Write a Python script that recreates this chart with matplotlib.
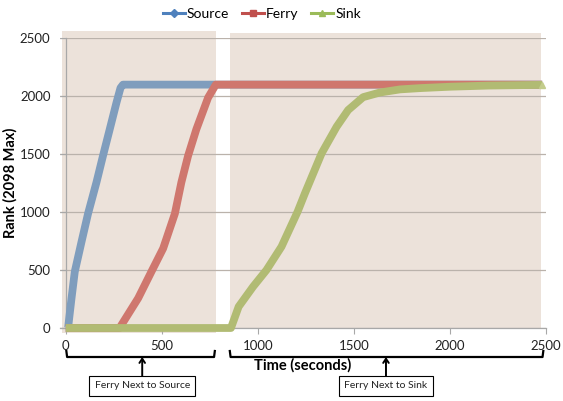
import matplotlib
matplotlib.use("Agg")
import matplotlib.pyplot as plt
from matplotlib import transforms
from matplotlib.lines import Line2D
from matplotlib.patches import Rectangle

plt.rcParams['font.family'] = ['Lato', 'DejaVu Sans']

# ---- data ----
t_source = [0, 12, 30, 47, 82, 116, 160, 194, 229, 264, 285, 298, 2480]
source = [0, 0, 257, 486, 743, 986, 1257, 1486, 1714, 1943, 2070, 2098, 2098]

t_ferry = [0, 280, 377, 446, 507, 568, 602, 637, 680, 741, 781, 2480]
ferry = [0, 0, 257, 486, 686, 986, 1257, 1486, 1714, 1986, 2098, 2098]

t_sink = [0, 860, 900, 975, 1045, 1123, 1207, 1245, 1332, 1410, 1470, 1548, 1635,
          1740, 1844, 2000, 2200, 2480]
sink = [0, 0, 184, 356, 500, 701, 1003, 1161, 1506, 1735, 1879, 1990, 2030,
        2057, 2068, 2080, 2090, 2096]

phases = ["Ferry Next to Source", "Ferry Next to Sink"]
phase_spans = [(-21, 781), (854, 2476)]
phase_arrow = [398, 1667]

xticks = [0, 500, 1000, 1500, 2000, 2500]
yticks = [0, 500, 1000, 1500, 2000, 2500]

c_source = '#7f9dbd'
c_ferry = '#cf776e'
c_sink = '#b1bb73'
c_shade = '#ece2da'
c_grid = '#bab2ab'

W, H = 563, 401
fig = plt.figure(figsize=(W / 100, H / 100), dpi=100)
ax = fig.add_axes([60 / W, 1 - 328 / H, 486 / W, 290 / H])

# shaded phases
ax.add_patch(Rectangle((phase_spans[0][0], -40), phase_spans[0][1] - phase_spans[0][0], 2600,
                       facecolor=c_shade, edgecolor='none', zorder=0.5, clip_on=False))
ax.add_patch(Rectangle((phase_spans[1][0], 0), phase_spans[1][1] - phase_spans[1][0], 2540,
                       facecolor=c_shade, edgecolor='none', zorder=0.5, clip_on=False))

lw = 5.6
style = dict(lw=lw, solid_capstyle='butt', solid_joinstyle='round', clip_on=False)
ax.plot(t_source, source, color=c_source, zorder=3, **style)
ax.plot(t_ferry, ferry, color=c_ferry, zorder=4, **style)
ax.plot(t_sink, sink, color=c_sink, zorder=5, marker='^', markevery=[len(t_sink) - 1],
        markersize=5, markerfacecolor='#c3cc8c', markeredgecolor='#c3cc8c', **style)

ax.set_xlim(-30, 2500)
ax.set_ylim(0, 2500)
ax.set_xticks(xticks)
ax.set_yticks(yticks)
ax.grid(axis='y', color=c_grid, lw=0.9)
ax.tick_params(axis='both', direction='out', length=4, color='#a8a8a8', labelsize=9.5,
               labelcolor='#222222')
ax.tick_params(axis='x', pad=5)
ax.tick_params(axis='y', pad=7)
for s in ['top', 'right']:
    ax.spines[s].set_visible(False)
ax.spines['left'].set_position(('data', 0))
for s in ['left', 'bottom']:
    ax.spines[s].set_color('#a8a8a8')
    ax.spines[s].set_linewidth(0.9)
    ax.spines[s].set_zorder(2)

ax.set_ylabel('Rank (2098 Max)', fontsize=10.5, fontweight='bold')
ax.yaxis.set_label_coords(-0.088, 0.5)
ax.set_xlabel('Time (seconds)', fontsize=10.5, fontweight='bold')
ax.xaxis.label.set_va('center')
ax.xaxis.set_label_coords(0.5, -0.128)

# legend
handles = [
    Line2D([], [], color='#4f81bd', lw=2.2, marker='D', markersize=4.5),
    Line2D([], [], color='#c0504d', lw=2.2, marker='s', markersize=4.5),
    Line2D([], [], color='#9bbb59', lw=2.2, marker='^', markersize=5),
]
fig.legend(handles, ['Source', 'Ferry', 'Sink'], loc='center', bbox_to_anchor=(262 / W, 1 - 14 / H),
           ncol=3, frameon=False, fontsize=10, handlelength=1.6, handletextpad=0.15,
           columnspacing=0.9)

# brackets and boxes below the axis
tr = transforms.blended_transform_factory(ax.transData, fig.transFigure)
def fy(py):
    return 1 - py / H

for (x1, x2), xa, label in zip([(3, 776), (854, 2486)], phase_arrow, phases):
    ax.add_line(Line2D([x1, x1 + 4, x2 - 4, x2], [fy(351), fy(357), fy(357), fy(351)],
                       transform=tr, color='black', lw=1.6, clip_on=False,
                       solid_joinstyle='round'))
    ax.annotate('', xy=(xa, fy(357)), xycoords=tr, xytext=(xa, fy(376)), textcoords=tr,
                arrowprops=dict(arrowstyle='->,head_length=0.3,head_width=0.2', lw=1.4,
                                color='black', shrinkA=0, shrinkB=0))
    ax.text(xa, fy(386), label, transform=tr, ha='center', va='center', fontsize=7.5,
            color='#222222',
            bbox=dict(boxstyle='square,pad=0.5', facecolor='white', edgecolor='black', lw=0.8))

fig.savefig('out.png', dpi=100)
